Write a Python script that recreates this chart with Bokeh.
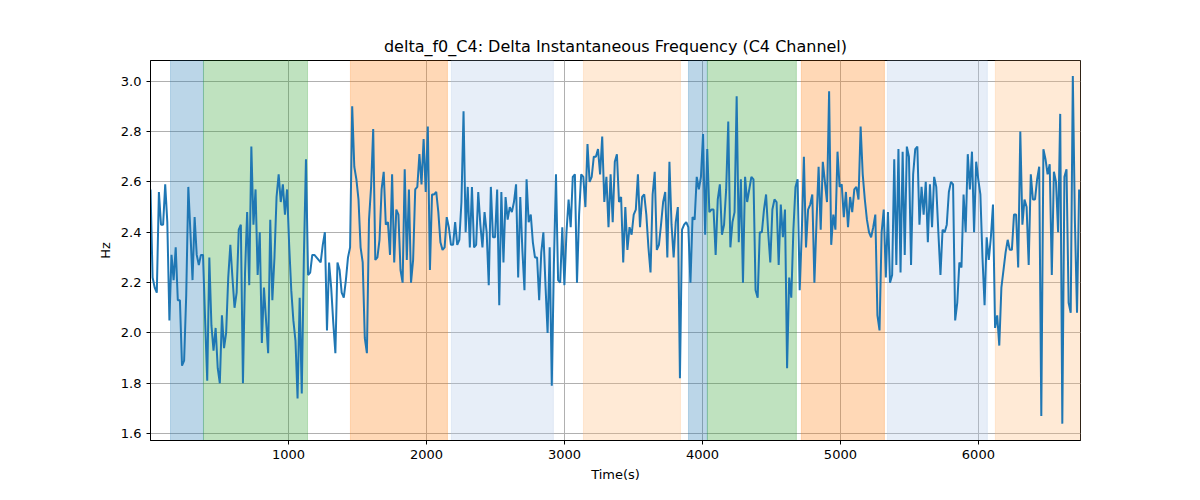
import numpy as np
from bokeh.plotting import figure
from bokeh.models import BoxAnnotation, Range1d, FixedTicker, NumeralTickFormatter
from bokeh.embed import file_html
from bokeh.resources import INLINE

values = [2.57,2.22,2.18,2.16,2.56,2.43,2.43,2.59,2.44,2.05,2.31,2.21,2.34,2.13,2.13,1.87,1.89,2.15,2.58,2.40,2.21,2.46,2.31,2.27,2.31,2.31,2.05,1.81,2.30,2.03,1.93,2.02,1.86,1.80,2.07,1.94,2.00,2.22,2.35,2.22,2.10,2.16,2.41,2.43,1.80,2.24,2.48,2.19,2.74,2.43,2.57,2.23,2.40,1.96,2.18,2.05,1.92,2.45,2.13,2.30,2.54,2.63,2.52,2.59,2.47,2.57,2.35,2.17,2.05,1.97,1.74,2.14,1.76,2.30,2.69,2.23,2.24,2.31,2.31,2.30,2.29,2.28,2.35,2.40,2.01,2.28,2.18,2.04,1.92,2.28,2.25,2.16,2.14,2.21,2.30,2.34,2.90,2.66,2.61,2.53,2.34,2.28,1.98,1.92,2.45,2.58,2.81,2.29,2.30,2.37,2.57,2.64,2.43,2.44,2.31,2.63,2.28,2.49,2.47,2.25,2.20,2.65,2.29,2.57,2.20,2.29,2.57,2.58,2.71,2.59,2.77,2.56,2.82,2.25,2.55,2.55,2.56,2.48,2.36,2.33,2.34,2.46,2.42,2.35,2.35,2.44,2.35,2.37,2.52,2.88,2.40,2.58,2.34,2.58,2.34,2.35,2.56,2.43,2.34,2.48,2.40,2.19,2.58,2.38,2.38,2.57,2.11,2.56,2.28,2.54,2.45,2.50,2.48,2.52,2.59,2.22,2.54,2.33,2.17,2.61,2.44,2.47,2.36,2.30,2.30,2.13,2.32,2.40,2.19,2.00,2.34,1.79,2.27,2.63,2.21,2.20,2.42,2.19,2.40,2.53,2.42,2.62,2.63,2.20,2.47,2.63,2.62,2.50,2.75,2.60,2.62,2.70,
2.70,2.73,2.63,2.78,2.52,2.62,2.42,2.63,2.44,2.68,2.71,2.52,2.54,2.28,2.50,2.33,2.42,2.39,2.47,2.49,2.63,2.42,2.54,2.55,2.47,2.34,2.24,2.55,2.64,2.33,2.35,2.43,2.52,2.56,2.30,2.68,2.43,2.30,2.44,2.50,1.82,2.41,2.43,2.44,2.42,2.20,2.46,2.45,2.62,2.57,2.62,2.79,2.39,2.73,2.48,2.49,2.49,2.31,2.53,2.59,2.39,2.43,2.57,2.84,2.34,2.44,2.48,2.94,2.36,2.61,2.20,2.62,2.52,2.57,2.62,2.61,2.17,2.14,2.40,2.40,2.49,2.55,2.40,2.28,2.49,2.53,2.52,2.27,2.51,2.38,2.49,1.86,2.22,2.14,2.41,2.58,2.61,2.17,2.40,2.70,2.34,2.49,2.51,2.55,2.20,2.44,2.66,2.41,2.68,2.60,2.52,2.96,2.35,2.47,2.41,2.72,2.58,2.59,2.46,2.56,2.42,2.54,2.48,2.57,2.58,2.53,2.82,2.63,2.53,2.45,2.40,2.38,2.42,2.47,2.07,2.01,2.40,2.49,2.22,2.48,2.20,2.23,2.69,2.27,2.73,2.24,2.72,2.31,2.74,2.70,2.27,2.63,2.73,2.74,2.43,2.58,2.47,2.60,2.36,2.59,2.42,2.62,2.58,2.40,2.23,2.41,2.40,2.43,2.56,2.60,2.59,2.05,2.12,2.28,2.26,2.55,2.40,2.71,2.57,2.72,2.40,2.68,2.61,2.55,2.30,2.11,2.38,2.29,2.38,2.51,2.02,2.07,1.95,2.18,2.25,2.32,2.37,2.33,2.33,2.47,2.47,2.26,2.80,2.43,2.53,2.50,2.27,2.63,2.53,2.53,2.61,2.66,1.67,2.73,2.69,2.63,2.67,2.23,2.64,2.60,2.40,2.87,1.64,2.62,2.65,2.12,2.08,3.02,2.44,2.08,2.57]
t_start, t_end = 0, 6730
times = np.linspace(t_start, t_end, len(values))

span_starts = [145, 384, 1449, 2181, 3138, 3899, 4036, 4717, 5341, 6123]
span_ends   = [384, 1138, 2152, 2920, 3841, 4036, 4681, 5319, 6065, 6740]
span_colors = ["#1f77b4", "#2ca02c", "#ff7f0e", "#aec7e8", "#ffbb78",
               "#1f77b4", "#2ca02c", "#ff7f0e", "#aec7e8", "#ffbb78"]
span_alpha = 0.3

p = figure(width=1184, height=484, output_backend="svg", toolbar_location=None,
           title="delta_f0_C4: Delta Instantaneous Frequency (C4 Channel)",
           x_axis_label="Time(s)", y_axis_label="Hz",
           min_border_left=150, min_border_right=104, min_border_top=60, min_border_bottom=34)
p.x_range = Range1d(0, 6740)
p.y_range = Range1d(1.573, 3.082)
for s, e, c in zip(span_starts, span_ends, span_colors):
    p.add_layout(BoxAnnotation(left=s, right=e, fill_color=c, fill_alpha=span_alpha,
                               line_color=c, line_alpha=0.25, level="underlay"))
p.line(times, values, line_color="#1f77b4", line_width=2)

p.title.align = "center"
p.title.text_font_style = "normal"
p.title.text_font_size = "16px"
p.title.text_font = "DejaVu Sans"
p.title.text_color = "black"
p.xaxis.ticker = FixedTicker(ticks=[1000, 2000, 3000, 4000, 5000, 6000])
p.yaxis.ticker = FixedTicker(ticks=[1.6, 1.8, 2.0, 2.2, 2.4, 2.6, 2.8, 3.0])
p.yaxis.formatter = NumeralTickFormatter(format="0.0")
for ax in (p.xaxis, p.yaxis):
    ax.axis_label_text_font_style = "normal"
    ax.axis_label_text_font = "DejaVu Sans"
    ax.axis_label_text_font_size = "13px"
    ax.axis_label_text_color = "black"
    ax.major_label_text_font = "DejaVu Sans"
    ax.major_label_text_font_size = "13px"
    ax.major_label_text_color = "black"
    ax.axis_line_color = "black"
    ax.major_tick_line_color = "black"
    ax.minor_tick_line_color = None
    ax.major_tick_out = 4
    ax.major_tick_in = 0
p.grid.grid_line_color = "#b0b0b0"
p.grid.grid_line_alpha = 1
p.grid.level = "underlay"
p.outline_line_color = "black"
p.outline_line_alpha = 1

open("out.html", "w").write(file_html(p, INLINE))
